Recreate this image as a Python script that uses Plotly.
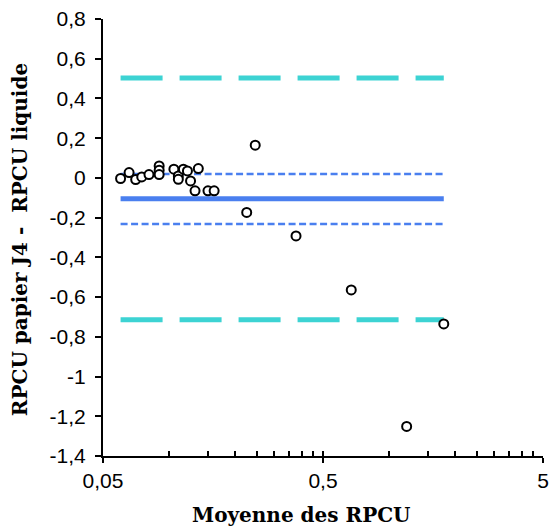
import plotly.graph_objects as go

# Data (Bland-Altman style)
mean_rpcu = [0.0601, 0.0657, 0.0704, 0.0750, 0.0809, 0.0900, 0.0900, 0.0900,
             0.1050, 0.1100, 0.1100, 0.1160, 0.1210, 0.1250, 0.1310, 0.1356,
             0.1500, 0.1600, 0.2460, 0.2250, 0.3770, 0.6720, 1.7700, 1.2000]
diff_rpcu = [-0.003, 0.027, -0.008, 0.005, 0.017, 0.060, 0.039, 0.017,
             0.044, 0.010, -0.007, 0.044, 0.035, -0.015, -0.065, 0.047,
             -0.065, -0.065, 0.165, -0.174, -0.292, -0.564, -0.735, -1.251]

mean_diff = -0.105
ci_upper = 0.020
ci_lower = -0.232
loa_upper = 0.503
loa_lower = -0.714

x_tick_vals = [0.05, 0.5, 5]
x_tick_text = ["0,05", "0,5", "5"]
x_minor_vals = [0.1, 0.15, 0.2, 0.25, 0.3, 0.35, 0.4, 0.45,
                1, 1.5, 2, 2.5, 3, 3.5, 4, 4.5]
y_tick_vals = [0.8, 0.6, 0.4, 0.2, 0, -0.2, -0.4, -0.6, -0.8, -1, -1.2, -1.4]
y_tick_text = ["0,8", "0,6", "0,4", "0,2", "0", "-0,2", "-0,4", "-0,6",
               "-0,8", "-1", "-1,2", "-1,4"]

x_title = "Moyenne des RPCU"
y_title = "RPCU papier J4 -  RPCU liquide"

x_lo, x_hi = min(mean_rpcu), max(mean_rpcu)

CYAN = "#3DD3D3"
BLUE = "#4A7FEF"

fig = go.Figure()

def hline(level, color, width, dash):
    fig.add_trace(go.Scatter(x=[x_lo, x_hi], y=[level, level], mode="lines",
                             line=dict(color=color, width=width, dash=dash),
                             hoverinfo="skip", showlegend=False))

hline(loa_upper, CYAN, 5, "42px,17px")
hline(loa_lower, CYAN, 5, "42px,17px")
hline(ci_upper, BLUE, 2.5, "7px,3.5px")
hline(ci_lower, BLUE, 2.5, "7px,3.5px")
hline(mean_diff, BLUE, 5, "solid")

fig.add_trace(go.Scatter(x=mean_rpcu, y=diff_rpcu, mode="markers",
                         marker=dict(symbol="circle", size=9, color="white",
                                     line=dict(color="black", width=2)),
                         showlegend=False))

# invisible trace for the overlay axis (inner half of major x ticks)
fig.add_trace(go.Scatter(x=[x_lo], y=[0], xaxis="x2", mode="markers",
                         marker=dict(opacity=0), showlegend=False, hoverinfo="skip"))

title_font = dict(family="DejaVu Serif", size=20, color="black")

fig.update_layout(
    width=550, height=527,
    margin=dict(l=103, r=7, t=19, b=71, autoexpand=False),
    plot_bgcolor="white", paper_bgcolor="white",
    font=dict(family="Liberation Sans, Arial, sans-serif", size=21, color="black"),
    xaxis=dict(
        type="log", range=[-1.30103, 0.69897], automargin=False,
        tickmode="array", tickvals=x_tick_vals, ticktext=x_tick_text,
        ticks="outside", ticklen=5, tickwidth=2, tickcolor="black",
        minor=dict(tickmode="array", tickvals=x_minor_vals, ticks="inside",
                   ticklen=5, tickwidth=2, tickcolor="black", showgrid=False),
        showline=True, linecolor="black", linewidth=2,
        showgrid=False, zeroline=False,
    ),
    xaxis2=dict(
        type="log", range=[-1.30103, 0.69897], overlaying="x", side="bottom",
        anchor="y", automargin=False,
        tickmode="array", tickvals=x_tick_vals, showticklabels=False,
        ticks="inside", ticklen=5, tickwidth=2, tickcolor="black",
        showline=False, showgrid=False, zeroline=False,
    ),
    yaxis=dict(
        range=[-1.4, 0.8], automargin=False,
        tickmode="array", tickvals=y_tick_vals, ticktext=y_tick_text,
        ticks="outside", ticklen=6, tickwidth=2, tickcolor="black",
        ticklabelstandoff=5,
        showline=True, linecolor="black", linewidth=2,
        showgrid=False, zeroline=False,
    ),
    annotations=[
        dict(text="<b>" + x_title + "</b>", xref="paper", yref="paper",
             x=0.45, y=-0.135, xanchor="center", yanchor="middle",
             showarrow=False, font=title_font),
        dict(text="<b>" + y_title + "</b>", xref="paper", yref="paper",
             x=-0.1886, y=0.494, xanchor="center", yanchor="middle",
             textangle=-90, showarrow=False, font=title_font),
    ],
)

fig.write_html("out.html")
